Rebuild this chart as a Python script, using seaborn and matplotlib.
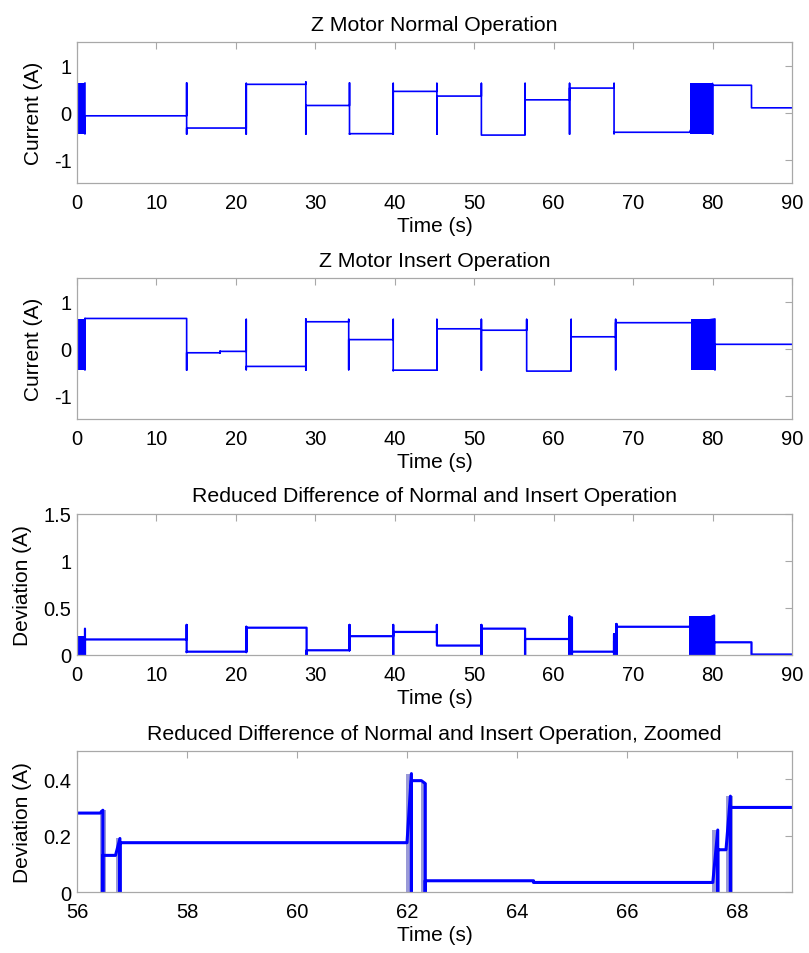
import numpy as np
import pandas as pd
import matplotlib
matplotlib.use("Agg")
import matplotlib.pyplot as plt
import seaborn as sns

# Z motor, normal operation: plateaus (start, end, level) and the spike at each start
normal_start = [1.0, 13.8, 21.3, 28.8, 34.3, 39.8, 45.3, 50.9, 56.4, 62.0, 67.6, 80.0, 84.9]
normal_end = [13.8, 21.3, 28.8, 34.3, 39.8, 45.3, 50.9, 56.4, 62.0, 67.6, 77.1, 84.9, 90.0]
normal_level = [-0.07, -0.33, 0.60, 0.15, -0.45, 0.45, 0.35, -0.48, 0.27, 0.52, -0.42, 0.58, 0.10]
normal_hi = [0.63, 0.63, 0.62, 0.65, 0.63, 0.62, 0.62, 0.62, 0.62, 0.62, 0.62, 0.62, 0.58]
normal_lo = [-0.45, -0.46, -0.46, -0.46, -0.46, -0.46, -0.46, -0.48, -0.46, -0.46, -0.45, -0.46, 0.10]
normal_burst_start = [0.0, 77.1]
normal_burst_end = [1.0, 80.0]
normal_burst_lo = [-0.45, -0.46]
normal_burst_hi = [0.63, 0.63]

# Z motor, insert operation
insert_start = [1.0, 13.8, 18.0, 21.3, 28.8, 34.2, 39.8, 45.3, 50.9, 56.6, 62.2, 67.8, 80.3]
insert_end = [13.8, 18.0, 21.3, 28.8, 34.2, 39.8, 45.3, 50.9, 56.6, 62.2, 67.8, 77.3, 90.0]
insert_level = [0.64, -0.09, -0.06, -0.38, 0.57, 0.19, -0.46, 0.42, 0.39, -0.48, 0.25, 0.55, 0.09]
insert_hi = [0.64, 0.64, -0.06, 0.62, 0.63, 0.62, 0.62, 0.62, 0.62, 0.62, 0.62, 0.62, 0.63]
insert_lo = [-0.45, -0.46, -0.09, -0.45, -0.46, -0.45, -0.47, -0.46, -0.46, -0.48, -0.46, -0.45, -0.45]
insert_burst_start = [0.0, 77.3]
insert_burst_end = [1.0, 80.3]
insert_burst_lo = [-0.45, -0.45]
insert_burst_hi = [0.63, 0.63]

# reduced difference
diff_start = [1.0, 13.8, 21.3, 28.9, 34.3, 39.8, 45.3, 50.9, 56.4, 62.0, 62.3, 67.6, 67.9, 80.2, 84.9]
diff_end = [13.8, 21.3, 28.9, 34.3, 39.8, 45.3, 50.9, 56.4, 62.0, 62.3, 67.6, 67.9, 77.0, 84.9, 90.0]
diff_level = [0.165, 0.035, 0.29, 0.05, 0.20, 0.245, 0.10, 0.28, 0.17, 0.40, 0.035, 0.15, 0.30, 0.135, 0.005]
diff_hi = [0.28, 0.32, 0.30, 0.29, 0.32, 0.32, 0.32, 0.32, 0.28, 0.41, 0.38, 0.22, 0.33, 0.42, 0.135]
diff_lo = [0.0, 0.03, 0.03, 0.0, 0.05, 0.0, 0.10, 0.0, 0.0, 0.0, 0.0, 0.0, 0.0, 0.0, 0.005]
diff_burst_start = [0.0, 77.0]
diff_burst_end = [1.0, 80.2]
diff_burst_lo = [0.0, 0.0]
diff_burst_hi = [0.2, 0.41]

# reduced difference, zoomed on 56-69 s
zoom_start = [56.0, 56.47, 56.78, 62.08, 62.33, 64.3, 67.65, 67.88]
zoom_end = [56.42, 56.70, 62.0, 62.26, 64.3, 67.56, 67.80, 69.0]
zoom_level = [0.28, 0.13, 0.175, 0.395, 0.04, 0.034, 0.15, 0.30]
zoom_hi = [0.28, 0.29, 0.19, 0.42, 0.385, 0.04, 0.22, 0.34]
zoom_lo = [0.28, 0.0, 0.0, 0.0, 0.0, 0.034, 0.0, 0.0]
zoom_shade_start = [56.42, 56.70, 61.98, 62.26, 67.55, 67.80]
zoom_shade_end = [56.52, 56.80, 62.10, 62.36, 67.66, 67.92]
zoom_shade_hi = [0.29, 0.19, 0.42, 0.385, 0.22, 0.34]


def step_frame(start, end, level, hi, lo):
    xs, ys = [], []
    for s, e, l, h, w in zip(start, end, level, hi, lo):
        xs += [s, s, s, e]
        ys += [h, w, l, l]
    return pd.DataFrame({"t": xs, "v": ys})


def style_axis(ax, xlim, ylim, xticks, yticks, ylabel, title):
    ax.set_xlim(*xlim)
    ax.set_ylim(*ylim)
    ax.set_xticks(xticks)
    ax.set_yticks(yticks)
    ax.set_yticklabels([f"{v:g}" for v in yticks])
    ax.set_xlabel("Time (s)", fontsize=15, labelpad=3, color="black")
    ax.set_ylabel(ylabel, fontsize=15, labelpad=8, color="black")
    ax.set_title(title, fontsize=15.3, pad=9, color="black")
    ax.tick_params(direction="in", top=True, right=True, length=5, width=0.8,
                   color="#a8a8a8", labelcolor="black", labelsize=14.5)
    ax.tick_params(axis="x", pad=7)
    ax.tick_params(axis="y", pad=4)
    for sp in ax.spines.values():
        sp.set_color("#a8a8a8")
        sp.set_linewidth(0.9)
        sp.set_visible(True)
    ax.grid(False)


sns.set_style("white")
plt.rcParams["font.family"] = ["Liberation Sans", "DejaVu Sans"]
plt.rcParams["axes.unicode_minus"] = False

fig = plt.figure(figsize=(8.09, 9.54), dpi=100)
left, width, height = 0.0952, 0.8838, 0.1478
bottoms = [0.8071, 0.5597, 0.3124, 0.0639]
axes = [fig.add_axes([left, b, width, height]) for b in bottoms]

panels = [
    (normal_start, normal_end, normal_level, normal_hi, normal_lo,
     normal_burst_start, normal_burst_end, normal_burst_lo, normal_burst_hi),
    (insert_start, insert_end, insert_level, insert_hi, insert_lo,
     insert_burst_start, insert_burst_end, insert_burst_lo, insert_burst_hi),
    (diff_start, diff_end, diff_level, diff_hi, diff_lo,
     diff_burst_start, diff_burst_end, diff_burst_lo, diff_burst_hi),
]
for ax, p, lw in zip(axes[:3], panels, [1.2, 1.2, 1.6]):
    df = step_frame(*p[:5])
    sns.lineplot(data=df, x="t", y="v", estimator=None, sort=False,
                 color="#0000ff", lw=lw, ax=ax)
    for a, b, lo, hi in zip(*p[5:]):
        ax.fill_between([a, b], lo, hi, color="#0000ff", lw=0)

ax = axes[3]
for a, b, hi in zip(zoom_shade_start, zoom_shade_end, zoom_shade_hi):
    ax.fill_between([a, b], 0, hi, color="#9a9ad8", lw=0)
df = step_frame(zoom_start, zoom_end, zoom_level, zoom_hi, zoom_lo)
sns.lineplot(data=df, x="t", y="v", estimator=None, sort=False,
             color="#0000ff", lw=2.2, ax=ax)

style_axis(axes[0], (0, 90), (-1.5, 1.5), range(0, 91, 10), [-1, 0, 1],
           "Current (A)", "Z Motor Normal Operation")
style_axis(axes[1], (0, 90), (-1.5, 1.5), range(0, 91, 10), [-1, 0, 1],
           "Current (A)", "Z Motor Insert Operation")
style_axis(axes[2], (0, 90), (0, 1.5), range(0, 91, 10), [0, 0.5, 1, 1.5],
           "Deviation (A)", "Reduced Difference of Normal and Insert Operation")
style_axis(axes[3], (56, 69), (0, 0.5), range(56, 69, 2), [0, 0.2, 0.4],
           "Deviation (A)", "Reduced Difference of Normal and Insert Operation, Zoomed")

fig.savefig("out.png", dpi=100)
